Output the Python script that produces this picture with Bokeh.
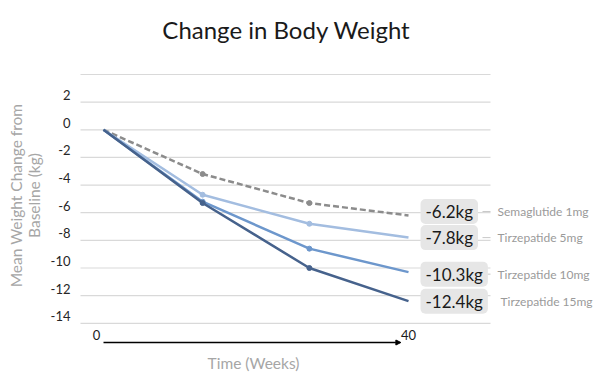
import math
from bokeh.plotting import figure
from bokeh.models import Label, Arrow, NormalHead, Range1d
from bokeh.core.properties import value
from bokeh.embed import file_html
from bokeh.resources import INLINE

# ---- data ----
weeks = [0, 13, 27, 40]
series_names = ["Semaglutide 1mg", "Tirzepatide 5mg", "Tirzepatide 10mg", "Tirzepatide 15mg"]
semaglutide_1mg = [0, -3.2, -5.3, -6.2]
tirzepatide_5mg = [0, -4.7, -6.8, -7.8]
tirzepatide_10mg = [0, -5.2, -8.6, -10.3]
tirzepatide_15mg = [0, -5.3, -10.0, -12.4]
end_labels = ["-6.2kg", "-7.8kg", "-10.3kg", "-12.4kg"]
y_ticks = [-14, -12, -10, -8, -6, -4, -2, 0, 2, 4]
y_tick_labels = ["-14", "-12", "-10", "-8", "-6", "-4", "-2", "0", "2", ""]
x_tick_labels = ["0", "40"]

# ---- layout / styles ----
W, H = 600, 377
PX_X = 7.625          # pixels per week
PX_Y = 13.82          # pixels per kg
X0_PX, Y0_PX = 103, 129.3   # canvas pixel of the origin


def X(px):
    return (px - X0_PX) / PX_X


def Y(py):
    return (Y0_PX - py) / PX_Y


colors = ["#8c8c8c", "#a3bde0", "#6d97cc", "#46628c"]
dashes = ["6 3", "solid", "solid", "solid"]
label_dy = [4, 0, -2, 0]
name_dx = [89, 89, 89, 92]
FONT = "Lato"

p = figure(width=W, height=H, output_backend="svg", toolbar_location=None,
           x_range=Range1d(X(0), X(W)), y_range=Range1d(Y(H), Y(0)),
           min_border=0)
p.outline_line_color = None
p.xaxis.visible = False
p.yaxis.visible = False
p.xgrid.visible = False
p.ygrid.visible = False

# horizontal grid lines and their labels
p.segment(x0=[X(80)] * len(y_ticks), x1=[X(490)] * len(y_ticks), y0=y_ticks, y1=y_ticks,
          line_color="#d9d9d9", line_width=1.2)
p.text(x=[X(70)] * len(y_ticks), y=y_ticks, text=y_tick_labels, y_offset=-2,
       text_font=value(FONT), text_font_size="13px", text_color="#262626",
       text_align="right", text_baseline="bottom")

all_series = [semaglutide_1mg, tirzepatide_5mg, tirzepatide_10mg, tirzepatide_15mg]
for vals, c, d in zip(all_series, colors, dashes):
    p.line(weeks, vals, line_color=c, line_width=2.5, line_dash=d)
    p.scatter(weeks[1:-1], vals[1:-1], size=5, fill_color=c, line_color=c)

for i, (vals, txt, dy, name, c) in enumerate(zip(all_series, end_labels, label_dy, series_names, colors)):
    if i < 3:
        yc = vals[-1] + dy / PX_Y
        p.segment(x0=[X(482)], x1=[X(490)], y0=[yc], y1=[yc], line_color="#c8c8c8", line_width=1)
    p.add_layout(Label(x=weeks[-1], y=vals[-1], x_offset=12, y_offset=dy, text=txt,
                       text_font=FONT, text_font_size="17px", text_color="#1a1a1a",
                       text_baseline="middle", text_align="left",
                       background_fill_color="#e6e6e6", border_radius=5,
                       padding=dict(left=5, right=5, top=2, bottom=2)))
    p.add_layout(Label(x=weeks[-1], y=vals[-1], x_offset=name_dx[i], y_offset=dy, text=name,
                       text_font=FONT, text_font_size="12px", text_color="#9a9a9a",
                       text_baseline="middle", text_align="left"))

# title
p.add_layout(Label(x=X(286), y=Y(29), text="Change in Body Weight",
                   text_font=FONT, text_font_size="24px", text_color="#1a1a1a",
                   text_align="center", text_baseline="middle"))
# y title
p.add_layout(Label(x=X(15), y=Y(195), text="Mean Weight Change from",
                   angle=math.pi / 2, text_font=FONT, text_font_size="15.5px", text_color="#a6a6a6",
                   text_align="center", text_baseline="middle"))
p.add_layout(Label(x=X(33), y=Y(195), text="Baseline (kg)",
                   angle=math.pi / 2, text_font=FONT, text_font_size="15.5px", text_color="#a6a6a6",
                   text_align="center", text_baseline="middle"))
# x labels and arrow
p.add_layout(Label(x=weeks[0], y=Y(334), x_offset=-7, text=x_tick_labels[0],
                   text_font=FONT, text_font_size="13px", text_color="#1a1a1a",
                   text_align="center", text_baseline="middle"))
p.add_layout(Label(x=weeks[-1], y=Y(334), text=x_tick_labels[1],
                   text_font=FONT, text_font_size="13px", text_color="#1a1a1a",
                   text_align="center", text_baseline="middle"))
p.add_layout(Arrow(x_start=weeks[0], x_end=weeks[-1] - 1, y_start=Y(342), y_end=Y(342),
                   line_color="black", line_width=1.5,
                   end=NormalHead(size=5, fill_color="black", line_color="black")))
p.add_layout(Label(x=X(253), y=Y(362), text="Time (Weeks)",
                   text_font=FONT, text_font_size="15.5px", text_color="#a6a6a6",
                   text_align="center", text_baseline="middle"))

open("out.html", "w").write(file_html(p, INLINE))
